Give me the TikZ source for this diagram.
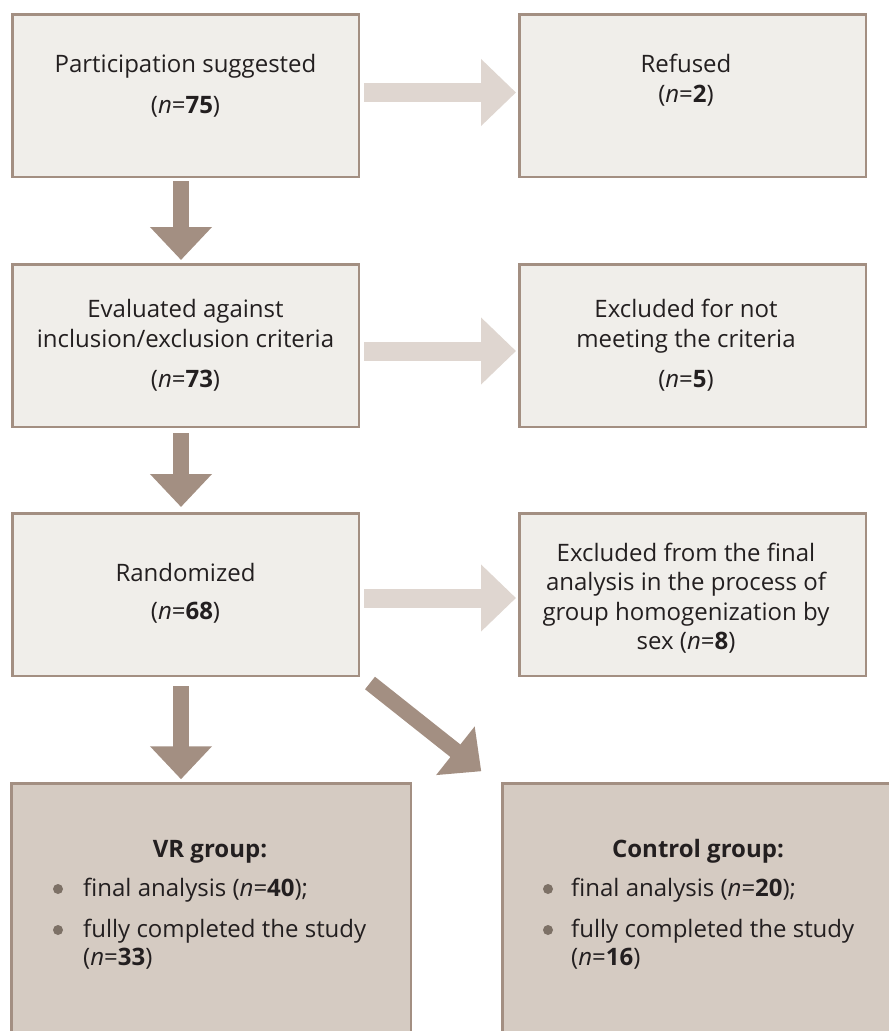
\documentclass[tikz,border=0pt]{standalone}
\usepackage{fontspec}
\setmainfont{Open Sans}
\usetikzlibrary{arrows.meta}
\definecolor{boxfill}{HTML}{F0EEEA}
\definecolor{boxborder}{HTML}{A38F82}
\definecolor{darkarrow}{HTML}{A38F82}
\definecolor{lightarrow}{HTML}{DFD6D0}
\definecolor{grpfill}{HTML}{D5CBC2}
\definecolor{bulletcol}{HTML}{7D7166}
\definecolor{textcol}{HTML}{231F20}
\begin{document}
\begin{tikzpicture}[x=1pt,y=-1pt,
  box/.style={draw=boxborder, line width=2.5pt, fill=boxfill, minimum width=346.5pt, minimum height=162.5pt, inner sep=0pt},
  grp/.style={draw=boxborder, line width=2.5pt, fill=grpfill},
  txt/.style={font=\fontsize{24}{30}\selectfont, text=textcol, anchor=base, inner sep=0pt},
  ltxt/.style={txt, anchor=base west},
  darr/.style={draw=darkarrow, line width=16pt, -{Triangle[width=60pt,length=33pt]}},
  larr/.style={draw=lightarrow, line width=19pt, -{Triangle[width=65pt,length=35pt]}},
  bul/.style={circle, fill=bulletcol, minimum size=10pt, inner sep=0pt}
]
\useasboundingbox (0,0) rectangle (889,1031);
\clip (0,0) rectangle (889,1031);

% boxes
\node[box] (b1) at (185.5,95.5) {};
\node[box] (r1) at (692.5,95.5) {};
\node[box] (b2) at (185.5,345.5) {};
\node[box] (r2) at (692.5,345.5) {};
\node[box] (b3) at (185.5,594.5) {};
\node[box] (r3) at (692.5,594.5) {};
\draw[grp] (11.25,783.25) rectangle (410.75,1060);
\draw[grp] (502.25,783.25) rectangle (920,1060);
\coordinate (g1) at (211.5,783.25);
\coordinate (g2nw) at (502.25,783.25);

% texts
\node[txt] (t1a) at (185.5,72) {Participation suggested};
\node[txt] (t1b) at (185.5,113) {(\textit{n}=\textbf{75})};
\node[txt] (u1a) at (686,72) {Refused};
\node[txt] (u1b) at (686,102) {(\textit{n}=\textbf{2})};
\node[txt] (t2a) at (185.5,317) {Evaluated against};
\node[txt] (t2b) at (185.5,347) {inclusion/exclusion criteria};
\node[txt] (t2c) at (185.5,387) {(\textit{n}=\textbf{73})};
\node[txt] (u2a) at (686,317) {Excluded for not};
\node[txt] (u2b) at (686,347) {meeting the criteria};
\node[txt] (u2c) at (686,387) {(\textit{n}=\textbf{5})};
\node[txt] (t3a) at (185.5,581) {Randomized};
\node[txt] (t3b) at (185.5,619) {(\textit{n}=\textbf{68})};
\node[txt] (u3a) at (686,561) {Excluded from the final};
\node[txt] (u3b) at (686,590.5) {analysis in the process of};
\node[txt] (u3c) at (686,620) {group homogenization by};
\node[txt] (u3d) at (686,649.5) {sex (\textit{n}=\textbf{8})};

\node[txt] (vrh) at (210,857) {\textbf{VR group:}};
\node[bul] (vb1) at (58,889) {};
\node[ltxt] (vl1) at (83,896) {final analysis (\textit{n}=\textbf{40});};
\node[bul] (vb2) at (58,930) {};
\node[ltxt] (vl2) at (83,937) {fully completed the study};
\node[ltxt] (vl3) at (83,965) {(\textit{n}=\textbf{33})};

\node[txt] (cgh) at (698,857) {\textbf{Control group:}};
\node[bul] (cb1) at (548,889) {};
\node[ltxt] (cl1) at (571,896) {final analysis (\textit{n}=\textbf{20});};
\node[bul] (cb2) at (548,930) {};
\node[ltxt] (cl2) at (571,937) {fully completed the study};
\node[ltxt] (cl3) at (571,965) {(\textit{n}=\textbf{16})};

% horizontal arrows
\draw[larr] ([xshift=4pt,yshift=3pt]b1.east) -- ([xshift=-2pt,yshift=3pt]r1.west);
\draw[larr] ([xshift=4pt,yshift=-5.5pt]b2.east) -- ([xshift=-2pt,yshift=-5.5pt]r2.west);
\draw[larr] ([xshift=4pt,yshift=-3.5pt]b3.east) -- ([xshift=-2pt,yshift=-3.5pt]r3.west);

% down arrows
\draw[darr] ([xshift=-4.5pt,yshift=-3pt]b1.south) -- ([xshift=-4.5pt,yshift=3pt]b2.north);
\draw[darr] ([xshift=-4.5pt,yshift=-5pt]b2.south) -- ([xshift=-4.5pt,yshift=5pt]b3.north);
\draw[darr] ([xshift=-4.5pt,yshift=-9pt]b3.south) -- ([xshift=-30.5pt,yshift=4pt]g1);

% diagonal arrow
\coordinate (dstart) at (370,683);
\draw[darr] (dstart) -- ([xshift=-21pt,yshift=12pt]g2nw);
\end{tikzpicture}
\end{document}
